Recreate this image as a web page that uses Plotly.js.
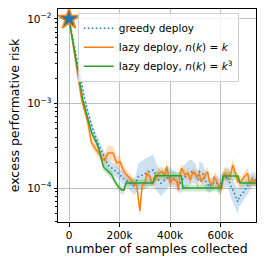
<!DOCTYPE html>
<html><head><meta charset="utf-8">
<script src="https://cdn.plot.ly/plotly-3.0.1.min.js"></script>
<style>html,body{margin:0;padding:0;background:#fff}#chart{width:266px;height:266px}</style>
</head><body><div id="chart"></div>
<script>
// samples collected (x) and excess performative risk (y)
const greedyX = [0,63000,83000,95000,115000,135000,154000,170000,189000,202000,215000,230000,248000,261000,274000,294000,314000,334000,347000,364000,380000,393000,413000,428000,440000,453000,472000,486000,499000,512000,517000,529000,543000,556000,569000,582000,595000,609000,628000,642000,655000,668000,674000,688000,701000,714000,727000,740000];
const greedyY = [1e-2,1.10e-3,6.38e-4,4.86e-4,3.38e-4,2.46e-4,1.87e-4,1.72e-4,1.56e-4,1.43e-4,1.30e-4,1.21e-4,1.09e-4,1.04e-4,1.36e-4,1.43e-4,1.55e-4,1.63e-4,1.33e-4,1.14e-4,1.24e-4,1.36e-4,1.30e-4,1.19e-4,1.14e-4,1.30e-4,1.49e-4,1.56e-4,1.49e-4,1.24e-4,1.56e-4,1.49e-4,1.19e-4,1.04e-4,1.14e-4,1.19e-4,1.04e-4,1.24e-4,1.36e-4,1.04e-4,8.66e-5,6.89e-5,7.89e-5,8.66e-5,9.9e-5,1.14e-4,1.30e-4,1.24e-4];
const greedySpread = [0,0.03,0.04,0.05,0.06,0.06,0.07,0.07,0.07,0.07,0.08,0.08,0.09,0.10,0.15,0.18,0.18,0.18,0.16,0.15,0.14,0.12,0.10,0.10,0.12,0.14,0.15,0.14,0.12,0.10,0.12,0.12,0.10,0.08,0.08,0.08,0.10,0.10,0.12,0.14,0.14,0.14,0.12,0.10,0.10,0.10,0.08,0.08];

const lazyX = [0,50000,75000,88000,108000,128000,141000,154000,174000,189000,202000,215000,228000,242000,255000,268000,281000,289000,301000,308000,321000,328000,341000,354000,367000,380000,387000,400000,413000,427000,433000,440000,446000,459000,472000,479000,492000,506000,516000,523000,536000,549000,556000,569000,575000,589000,602000,615000,629000,642000,648000,661000,668000,681000,694000,708000,714000,728000,740000];
const lazyY = [1e-2,1.10e-3,5.88e-4,3.50e-4,2.82e-4,2.39e-4,2.09e-4,2.59e-4,2.59e-4,1.98e-4,2.05e-4,1.63e-4,1.43e-4,1.30e-4,1.14e-4,1.09e-4,5.34e-5,1.06e-4,1.14e-4,1.49e-4,1.36e-4,1.14e-4,1.24e-4,1.49e-4,1.56e-4,1.43e-4,1.79e-4,1.14e-4,1.30e-4,1.19e-4,9.47e-5,1.49e-4,1.71e-4,1.43e-4,1.49e-4,1.24e-4,1.56e-4,1.36e-4,1.49e-4,1.19e-4,1.36e-4,1.56e-4,1.19e-4,1.09e-4,1.36e-4,1.14e-4,9.47e-5,1.49e-4,1.36e-4,1.49e-4,1.87e-4,1.43e-4,1.19e-4,1.19e-4,1.36e-4,1.49e-4,1.14e-4,1.24e-4,1.19e-4];
const lazySpread = [0,0.03,0.04,0.05,0.06,0.07,0.08,0.09,0.09,0.08,0.07,0.07,0.06,0.06,0.06,0.06,0.08,0.06,0.06,0.06,0.06,0.06,0.06,0.06,0.06,0.07,0.07,0.07,0.06,0.06,0.07,0.06,0.06,0.06,0.06,0.06,0.06,0.06,0.06,0.07,0.06,0.06,0.06,0.06,0.06,0.07,0.07,0.08,0.08,0.08,0.08,0.07,0.06,0.06,0.06,0.06,0.06,0.06,0.06];

const cubeX = [0,55000,90000,110000,123000,136000,149000,169000,182000,195000,209000,218000,226000,333000,341000,445000,451000,602000,610000,669000,677000,740000];
const cubeY = [1e-2,1.10e-3,4.44e-4,3.38e-4,2.58e-4,1.79e-4,1.63e-4,1.43e-4,1.19e-4,1.04e-4,9.47e-5,9.47e-5,1.15e-4,1.15e-4,1.40e-4,1.40e-4,1.0e-4,1.0e-4,1.39e-4,1.39e-4,1.15e-4,1.15e-4];
const cubeSpread = [0,0.03,0.04,0.05,0.05,0.05,0.05,0.05,0.05,0.05,0.05,0.05,0.04,0.04,0.05,0.05,0.04,0.04,0.05,0.05,0.04,0.04];

const startX = [0];
const startY = [1e-2];

const names = ['greedy deploy','lazy deploy, <i>n</i>(<i>k</i>) = <i>k</i>','lazy deploy, <i>n</i>(<i>k</i>) = <i>k</i><sup>3</sup>'];
const xTickVals = [0,200000,400000,600000];
const xTickText = ['0','200k','400k','600k'];
const yTickVals = [1e-4,1e-3,1e-2];
const yTickText = ['10<sup>−4</sup>','10<sup>−3</sup>','10<sup>−2</sup>'];

function band(x, y, s, color) {
  const up = y.map((v,i)=>v*Math.pow(10,s[i]));
  const lo = y.map((v,i)=>v*Math.pow(10,-s[i]));
  return {x: x.concat(x.slice().reverse()), y: up.concat(lo.slice().reverse()),
    type:'scatter', mode:'lines', fill:'toself', fillcolor:color, line:{width:0},
    showlegend:false, hoverinfo:'skip'};
}
const minorVals = [];
for (let d=-5; d<=-2; d++) for (let m=2; m<=9; m++) minorVals.push(m*Math.pow(10,d));

const traces = [
  band(greedyX, greedyY, greedySpread, 'rgba(31,119,180,0.22)'),
  band(lazyX, lazyY, lazySpread, 'rgba(255,127,14,0.25)'),
  band(cubeX, cubeY, cubeSpread, 'rgba(44,160,44,0.22)'),
  {x:greedyX, y:greedyY, type:'scatter', mode:'lines', name:names[0], line:{color:'#1f77b4', width:1.5, dash:'1.5px,2.5px'}},
  {x:lazyX, y:lazyY, type:'scatter', mode:'lines', name:names[1], line:{color:'#ff7f0e', width:1.5}},
  {x:cubeX, y:cubeY, type:'scatter', mode:'lines', name:names[2], line:{color:'#2ca02c', width:1.5}},
  {x:startX, y:startY, type:'scatter', mode:'markers', showlegend:false,
   marker:{symbol:'star', size:16, color:'#1f77b4', line:{color:'#ff7f0e', width:1.5}}}
];

const layout = {
  width:266, height:266,
  margin:{l:58, r:10, t:9, b:44},
  paper_bgcolor:'#fff', plot_bgcolor:'#fff',
  font:{family:'DejaVu Sans', size:10, color:'#000'},
  showlegend:true,
  legend:{x:0.1, y:0.982, xanchor:'left', yanchor:'top', bgcolor:'rgba(255,255,255,0.8)',
    bordercolor:'#d0d0d0', borderwidth:1, font:{size:10.5, family:'DejaVu Sans'}, tracegroupgap:0},
  xaxis:{range:[-43600,740500], tickmode:'array', tickvals:xTickVals, ticktext:xTickText,
    showgrid:true, gridcolor:'#b0b0b0', gridwidth:0.8, zeroline:false,
    showline:true, linecolor:'#000', linewidth:1, mirror:true, ticks:'outside', ticklen:3.5, tickcolor:'#000',
    tickfont:{size:10.5},
    title:{text:'number of samples collected', font:{size:12.5}, standoff:4}},
  yaxis:{type:'log', range:[-4.402,-1.882], tickmode:'array', tickvals:yTickVals, ticktext:yTickText,
    showgrid:true, gridcolor:'#b0b0b0', gridwidth:0.8, zeroline:false,
    showline:true, linecolor:'#000', linewidth:1, mirror:true, ticks:'outside', ticklen:3.5, tickcolor:'#000',
    tickfont:{size:10.5},
    minor:{tickmode:'array', tickvals:minorVals, ticks:'outside', ticklen:2, tickcolor:'#000', showgrid:false},
    title:{text:'excess performative risk', font:{size:12.5}, standoff:4}}
};
Plotly.newPlot('chart', traces, layout, {displayModeBar:false, staticPlot:true});
</script></body></html>
